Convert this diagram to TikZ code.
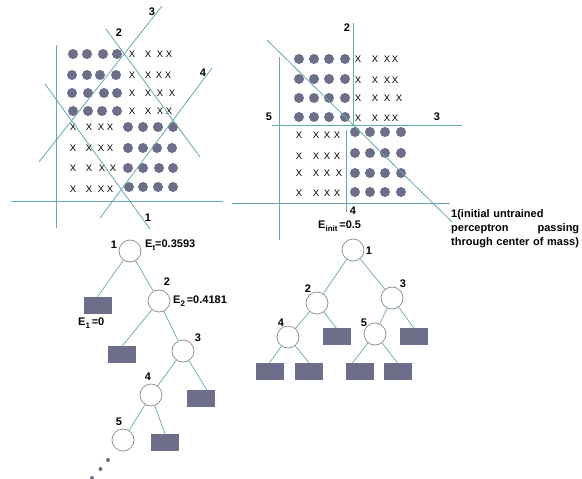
\documentclass[tikz,border=0pt]{standalone}
\usepackage{fontspec}
\setmainfont{Liberation Sans}
\definecolor{tealline}{HTML}{66A9AC}
\definecolor{dotc}{HTML}{6C6E8A}
\definecolor{circc}{HTML}{8A8A8A}
\newcommand{\subl}[1]{\raisebox{-3.5pt}{\fontsize{8}{8}\selectfont #1}}
\begin{document}
\begin{tikzpicture}[x=1pt,y=-1pt,
  sepline/.style={tealline, line width=0.8pt},
  edgeline/.style={tealline, line width=0.7pt},
  lbl/.style={font=\bfseries\fontsize{11}{12}\selectfont, inner sep=0pt},
  xm/.style={font=\fontsize{9.5}{10}\selectfont, inner sep=0pt},
  tn/.style={circle, draw=circc, fill=white, minimum size=22pt, inner sep=0pt, line width=0.7pt},
  leaf/.style={rectangle, fill=dotc, draw=dotc, minimum width=27pt, minimum height=16pt, inner sep=0pt},
  dotf/.style={fill=dotc}]
\useasboundingbox (0,0) rectangle (582,479);

% ---------- Left scatter panel ----------
\foreach \y/\xs in {54/{73,87,103,117},75/{72,87,100,116},93/{72,88,104,117},111/{73,88,102,117},
                    127/{128,143,158,173},148/{128,143,157,172},168/{128,143,159,173},187/{129,143,158,173}}
  \foreach \x in \xs \fill[dotf] (\x,\y) circle (5);
\foreach \y/\xs in {54/{132,148,160,169},75/{132,148,159,168},93/{132,148,160,172},111/{132,148,160,169},
                    127/{73,89,101,110},148/{73,89,101,110},168/{73,89,102,113},189/{73,89,101,110}}
  \foreach \x in \xs \node[xm] at (\x,\y) {X};

\coordinate (lva) at (56,45);  \coordinate (lvb) at (56,228);
\coordinate (lha) at (11,201); \coordinate (lhb) at (223,201);
\coordinate (l1a) at (45,84);  \coordinate (l1b) at (150,229);
\coordinate (l2a) at (106,29); \coordinate (l2b) at (200,157);
\coordinate (l3a) at (162,6);  \coordinate (l3b) at (39,162);
\coordinate (l4a) at (212,68); \coordinate (l4b) at (100,218);
\draw[sepline] (lva) -- (lvb);
\draw[sepline] (lha) -- (lhb);
\draw[sepline] (l1a) -- (l1b);
\draw[sepline] (l2a) -- (l2b);
\draw[sepline] (l3a) -- (l3b);
\draw[sepline] (l4a) -- (l4b);
\node[lbl] (ll1) at (148,218) {1};
\node[lbl] (ll2) at (119,33) {2};
\node[lbl] (ll3) at (152,12) {3};
\node[lbl] (ll4) at (203,73) {4};

% ---------- Right scatter panel ----------
\foreach \y/\xs in {59/{299,314,329,345},79/{299,314,329,345},98/{299,314,329,345},117/{299,314,329,345},
                    132/{355,370,385,401},153/{355,370,385,401},173/{355,370,385,401},192/{355,370,385,401}}
  \foreach \x in \xs \fill[dotf] (\x,\y) circle (5);
\foreach \y/\xs in {59/{358,375,387,395},80/{358,375,387,395},98/{358,375,387,399},118/{358,375,387,395},
                    135/{299,316,327,337},156/{299,316,327,337},173/{299,316,327,339},193/{299,316,327,337}}
  \foreach \x in \xs \node[xm] at (\x,\y) {X};

\coordinate (rva) at (353,23);  \coordinate (rvb) at (353,126);
\coordinate (rha) at (272,125); \coordinate (rhb) at (462,125);
\coordinate (r5a) at (279,57);  \coordinate (r5b) at (279,240);
\coordinate (rba) at (232,203); \coordinate (rbb) at (450,203);
\coordinate (r4a) at (346,130); \coordinate (r4b) at (346,212);
\coordinate (r1a) at (267,40);  \coordinate (r1b) at (452,222);
\draw[sepline] (rva) -- (rvb);
\draw[sepline] (rha) -- (rhb);
\draw[sepline] (r5a) -- (r5b);
\draw[sepline] (rba) -- (rbb);
\draw[sepline] (r4a) -- (r4b);
\draw[sepline] (r1a) -- (r1b);
\node[lbl] (rl2) at (347,28) {2};
\node[lbl] (rl3) at (437,117) {3};
\node[lbl] (rl5) at (269,117) {5};
\node[lbl] (rl4) at (353,211) {4};
\node[lbl, anchor=north west, text width=128pt, align=left, font=\bfseries\fontsize{11}{14}\selectfont] (rtext) at (451,209)
  {1(initial untrained\\perceptron\hfill passing\\through center of mass)};

% ---------- Left tree ----------
\node[leaf] (L1) at (97.5,305) {};
\node[leaf] (L2) at (122,354.5) {};
\node[leaf] (L3) at (201,398.5) {};
\node[leaf] (L4) at (165,442) {};
\node[tn] (n1) at (130,251) {};
\node[tn] (n2) at (159,301) {};
\node[tn] (n3) at (183,351) {};
\node[tn] (n4) at (151,395) {};
\node[tn] (n5) at (123,440) {};
\draw[edgeline] (n1) -- (L1.north);
\draw[edgeline] (n1) -- (n2);
\draw[edgeline] (n2) -- (L2.north);
\draw[edgeline] (n2) -- (n3);
\draw[edgeline] (n3) -- (n4);
\draw[edgeline] (n3) -- ([xshift=6pt]L3.north);
\draw[edgeline] (n4) -- (n5);
\draw[edgeline] (n4) -- (L4.north);
\node[lbl] (t1) at (114,245) {1};
\node[lbl] (t2) at (167,282) {2};
\node[lbl] (t3) at (198,338) {3};
\node[lbl] (t4) at (148,377) {4};
\node[lbl] (t5) at (119,422) {5};
\node[lbl, anchor=west] (et) at (145,245) {E\subl{t}=0.3593};
\node[lbl, anchor=west] (e2) at (173,301) {E\subl{2}\,=0.4181};
\node[lbl, anchor=west] (e1) at (78,323) {E\subl{1}\,=0};
\fill[dotf] (108,460) circle (2);
\fill[dotf] (100.5,469) circle (2);
\fill[dotf] (92,478) circle (2);

% ---------- Right tree ----------
\node[leaf] (R2) at (336.5,336.5) {};
\node[leaf] (R3) at (414,336.5) {};
\node[leaf] (R4a) at (269.5,371) {};
\node[leaf] (R4b) at (309,371) {};
\node[leaf] (R5a) at (359.5,371) {};
\node[leaf] (R5b) at (397.5,371) {};
\node[tn] (m1) at (353,250) {};
\node[tn] (m2) at (317,303) {};
\node[tn] (m3) at (392,298) {};
\node[tn] (m4) at (288,337) {};
\node[tn] (m5) at (375,334) {};
\draw[edgeline] (m1) -- (m2);
\draw[edgeline] (m1) -- (m3);
\draw[edgeline] (m2) -- (m4);
\draw[edgeline] (m2) -- (R2.north);
\draw[edgeline] (m3) -- (m5);
\draw[edgeline] (m3) -- (R3.north);
\draw[edgeline] (m4) -- (R4a.north);
\draw[edgeline] (m4) -- (R4b.north);
\draw[edgeline] (m5) -- ([xshift=-7pt]R5a.north);
\draw[edgeline] (m5) -- (R5b.north);
\node[lbl] (s1) at (369,251) {1};
\node[lbl] (s2) at (308,289) {2};
\node[lbl] (s3) at (403,284) {3};
\node[lbl] (s4) at (281,323) {4};
\node[lbl] (s5) at (364,323) {5};
\node[lbl, anchor=west] (einit) at (318,226) {E\subl{init}\,=0.5};
\end{tikzpicture}
\end{document}
